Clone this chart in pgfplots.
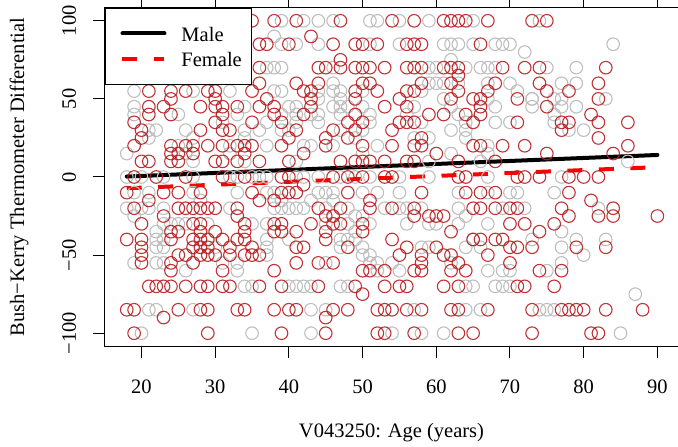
\documentclass[border=0pt]{standalone}
\usepackage{fontspec}
\setmainfont{Liberation Serif}
\usepackage{pgfplots}
\pgfplotsset{compat=1.18}
\definecolor{malegray}{RGB}{190,190,190}
\definecolor{femred}{RGB}{185,28,32}
\newcommand{\labfont}{\fontsize{20.5}{24}\selectfont}

\begin{document}
\begin{tikzpicture}
\begin{axis}[
  scale only axis, width=573pt, height=338pt,
  xmin=15.05, xmax=92.8, ymin=-108.2, ymax=108.2,
  axis line style={line width=1pt},
  tick align=outside, major tick length=12pt,
  tick style={black, line width=1pt},
  xtick={20,30,40,50,60,70,80,90},
  xticklabels={20,30,40,50,60,70,80,90},
  ytick={-100,-50,0,50,100},
  yticklabels={−100,−50,0,50,100},
  tick label style={font=\labfont},
  xticklabel style={anchor=base, yshift=-35pt},
  yticklabel style={rotate=90, anchor=base, yshift=17pt},
  label style={font=\labfont},
  xlabel={V043250: Age (years)},
  ylabel={Bush−Kerry Thermometer Differential},
  xlabel style={at={(axis description cs:0.5,-0.272)}, anchor=base},
  ylabel style={at={(axis description cs:-0.150,0.5)}, anchor=center},
  legend cell align=left,
  legend style={at={(axis description cs:0,1)}, anchor=north west,
    draw=black, line width=1pt, fill=white, font=\labfont,
    inner xsep=10pt, inner ysep=12.4pt, row sep=0pt, column sep=0pt,
    nodes={inner sep=0pt, text height=14pt, text depth=0pt}},
  legend image code/.code={%
    \path[draw=none, fill=none] (0pt,-12.3pt) rectangle (66pt,13.3pt);
    \draw[#1] (7pt,0.7pt) -- (49pt,0.7pt);},
]

% respondents, male
\addplot[only marks, mark=o, mark size=6.3pt, color=malegray,
  mark options={line width=1.1pt}, forget plot] coordinates {
(19,55)(27,55)(32,55)(19,45)(34,45)(19,40)(25,40)(33,40)(31,35)(21,30)(22,30)(26,30)(34,30)
(21,25)(27,25)(34,25)(25,20)(32,20)(18,15)(26,15)(32,15)(27,10)(34,10)
(39,100)(42,100)(44,100)(46,100)(51,100)(52,100)(38,90)(39,85)(41,85)(44,85)(51,85)
(37,70)(38,70)(39,70)(46,70)(46,60)(38,55)(39,55)(44,55)(46,55)(47,55)(50,55)(44,50)(47,50)
(40,45)(41,45)(46,45)(47,45)(48,45)(50,45)(39,40)(41,40)(43,40)(44,40)(47,40)(51,40)
(37,35)(41,35)(44,35)(51,35)(36,30)(39,30)(40,30)(47,30)(50,30)(49,25)(37,20)(42,20)(43,20)
(46,20)(52,20)(50,15)(41,10)
(55,100)(59,100)(65,100)(55,85)(61,85)(62,85)(63,85)(65,85)(68,85)(69,85)(70,85)(72,80)(62,75)
(59,70)(60,70)(64,70)(66,70)(67,70)(68,70)(59,60)(60,60)(61,60)(63,60)(67,60)(70,60)(58,55)
(71,55)(61,50)(67,50)(73,50)(57,45)(62,45)(68,45)(56,40)(63,40)(58,35)(64,35)(68,35)(70,35)
(62,30)(64,30)(57,25)(59,25)(64,25)(67,20)(62,15)(67,15)(59,10)(66,10)
(74,100)(84,85)(75,70)(79,70)(77,60)(79,60)(73,50)(76,50)(77,50)(83,50)(73,45)(77,45)(79,45)
(76,40)(76,35)(78,30)(80,30)(86,10)
(18,0)(20,0)(23,0)(27,0)(32,0)(33,0)(19,-10)(21,-10)(27,-10)(33,-10)(28,-15)(18,-20)(20,-20)
(21,-20)(23,-20)(32,-20)(19,-25)(23,-30)(24,-30)(25,-30)(26,-30)(29,-30)(22,-35)(22,-40)
(23,-40)(22,-45)(23,-45)(30,-45)(19,-55)(22,-55)(23,-55)(31,-55)(33,-55)(26,-60)(33,-60)
(34,-70)(21,-85)(22,-85)(27,-85)(20,-100)
(35,0)(36,0)(37,0)(41,0)(42,0)(44,0)(47,0)(49,0)(51,0)(37,-10)(38,-10)(44,-10)(45,-10)(46,-10)
(50,-10)(52,-10)(39,-15)(43,-15)(46,-15)(38,-20)(39,-20)(40,-20)(41,-20)(42,-20)(45,-20)
(48,-20)(53,-20)(49,-25)(50,-25)(35,-30)(37,-30)(45,-30)(48,-30)(51,-30)(49,-35)(37,-40)
(40,-40)(47,-40)(48,-40)(49,-40)(37,-45)(47,-45)(50,-45)(37,-50)(50,-50)(51,-50)(45,-55)
(51,-55)(52,-55)(52,-60)(35,-70)(40,-70)(41,-70)(42,-70)(43,-70)(47,-70)(48,-70)(43,-85)
(45,-85)(35,-100)(43,-100)
(55,0)(59,0)(67,0)(55,-10)(63,-10)(67,-10)(70,-10)(71,-10)(55,-20)(56,-20)(58,-20)(63,-20)
(69,-20)(72,-20)(64,-25)(56,-30)(59,-30)(60,-30)(63,-30)(67,-30)(65,-40)(73,-40)(58,-45)
(59,-45)(64,-45)(66,-45)(54,-55)(62,-55)(55,-60)(67,-60)(69,-60)(70,-60)(64,-70)(65,-70)
(68,-70)(69,-70)(70,-70)(57,-85)(64,-85)(66,-85)(54,-100)(58,-100)(61,-100)
(77,0)(76,-10)(82,-20)(77,-35)(79,-40)(83,-40)(77,-45)(80,-50)(77,-55)(75,-60)(87,-75)
(74,-85)(75,-85)(76,-85)(85,-100)
};

% respondents, female
\addplot[only marks, mark=o, mark size=6.3pt, color=femred, opacity=0.9,
  mark options={line width=1.1pt}, forget plot] coordinates {
(21,55)(24,55)(26,55)(29,55)(30,55)(24,50)(30,50)(21,45)(23,45)(28,45)(30,45)(31,45)(33,45)
(21,40)(24,40)(31,40)(19,35)(30,35)(20,30)(28,30)(31,30)(32,30)(20,25)(19,20)(24,20)(26,20)
(27,20)(29,20)(31,20)(33,20)(34,20)(24,15)(25,15)(27,15)(34,15)(20,10)(21,10)(24,10)(25,10)
(30,10)(31,10)(33,10)
(35,100)(38,100)(41,100)(47,100)(54,100)(43,90)(36,85)(37,85)(40,85)(46,85)(49,85)(50,85)
(52,85)(47,75)(36,70)(44,70)(45,70)(47,70)(49,70)(50,70)(51,70)(53,70)(36,60)(41,60)(44,60)
(50,60)(51,60)(35,55)(42,55)(43,55)(49,55)(52,55)(37,50)(43,50)(49,50)(36,45)(38,45)(43,45)
(53,45)(38,40)(42,40)(49,40)(35,35)(39,35)(48,35)(50,35)(41,30)(46,30)(49,30)(40,25)(45,25)
(48,25)(35,20)(39,20)(45,20)(50,20)(42,15)(36,10)(40,10)(47,10)(49,10)(50,10)(51,10)(53,10)
(57,100)(61,100)(62,100)(63,100)(64,100)(67,100)(73,100)(56,85)(57,85)(58,85)(66,85)
(56,70)(57,70)(58,70)(61,70)(62,70)(63,70)(69,70)(72,70)(63,65)(58,60)(62,60)(68,60)(56,55)
(57,55)(63,55)(67,55)(55,50)(62,50)(65,50)(66,50)(71,50)(56,45)(66,45)(59,40)(61,40)(64,40)
(66,40)(55,35)(56,35)(57,35)(65,35)(71,35)(54,30)(58,25)(54,20)(57,20)(58,20)(65,20)(66,20)
(69,20)(72,20)(60,15)(56,10)(57,10)(63,10)(68,10)
(75,100)(74,70)(83,70)(74,60)(82,60)(75,55)(78,55)(82,50)(75,45)(81,40)(77,35)(78,35)
(82,35)(86,35)(77,30)(82,25)(86,20)(75,15)(84,15)
(19,0)(22,0)(26,0)(31,0)(34,0)(18,-10)(23,-10)(25,-10)(28,-10)(21,-15)(19,-20)(25,-20)
(26,-20)(27,-20)(28,-20)(29,-20)(30,-20)(33,-20)(23,-25)(33,-25)(20,-30)(27,-30)(28,-30)
(34,-30)(24,-35)(25,-35)(28,-35)(30,-35)(34,-35)(18,-40)(20,-40)(24,-40)(27,-40)(28,-40)
(29,-40)(31,-40)(33,-40)(34,-40)(20,-45)(27,-45)(28,-45)(29,-45)(32,-45)(20,-50)(25,-50)
(26,-50)(28,-50)(29,-50)(30,-50)(32,-50)(34,-50)(20,-55)(24,-55)(27,-55)(24,-60)(31,-60)
(21,-70)(22,-70)(23,-70)(24,-70)(26,-70)(28,-70)(29,-70)(31,-70)(32,-70)(18,-85)(19,-85)
(25,-85)(28,-85)(29,-85)(33,-85)(34,-85)(23,-90)(19,-100)(29,-100)
(39,0)(40,0)(46,0)(48,0)(50,0)(53,0)(42,-5)(35,-10)(39,-10)(40,-10)(41,-10)(48,-10)(36,-15)
(38,-15)(51,-15)(44,-20)(47,-20)(51,-20)(45,-25)(46,-25)(38,-30)(39,-30)(43,-30)(46,-30)
(47,-30)(50,-30)(38,-35)(39,-35)(41,-35)(45,-35)(50,-35)(45,-40)(54,-40)(35,-45)(41,-45)
(42,-45)(48,-45)(35,-50)(36,-50)(41,-55)(44,-55)(46,-55)(38,-60)(50,-60)(51,-60)(53,-60)
(36,-70)(39,-70)(44,-70)(49,-70)(53,-70)(50,-75)(38,-85)(40,-85)(41,-85)(46,-85)(48,-85)
(52,-85)(53,-85)(45,-90)(39,-100)(45,-100)(52,-100)(53,-100)
(54,0)(63,0)(64,0)(71,0)(72,0)(58,-10)(64,-10)(66,-10)(68,-10)(54,-20)(57,-20)(65,-20)
(66,-20)(68,-20)(70,-20)(71,-20)(57,-25)(59,-25)(60,-25)(61,-25)(70,-30)(72,-30)(62,-35)
(65,-40)(66,-40)(68,-40)(69,-40)(56,-45)(60,-45)(70,-45)(71,-45)(55,-50)(58,-50)(61,-50)
(62,-50)(67,-50)(58,-55)(63,-55)(70,-55)(57,-60)(58,-60)(62,-60)(64,-60)(55,-70)(56,-70)
(61,-70)(63,-70)(71,-70)(72,-70)(54,-85)(56,-85)(58,-85)(62,-85)(63,-85)(67,-85)(73,-85)
(57,-100)(63,-100)(65,-100)(73,-100)
(74,0)(78,0)(80,0)(82,0)(78,-10)(81,-15)(77,-20)(84,-20)(78,-25)(82,-25)(84,-25)(90,-25)
(76,-30)(74,-35)(73,-45)(79,-45)(83,-45)(74,-60)(77,-60)(76,-70)(77,-85)(78,-85)(79,-85)
(80,-85)(83,-85)(88,-85)(81,-100)(82,-100)
};

% fitted lines
\addplot[black, line width=4pt, line cap=round] coordinates {(18,0.3) (90,14.1)};
\addlegendentry{Male}
\addplot[red, line width=4pt, dash pattern=on 15pt off 16.5pt] coordinates {(18,-7.2) (90,6.3)};
\addlegendentry{Female}
\end{axis}
\pgfresetboundingbox
\path (-105pt,-101pt) rectangle (573pt,338pt+8pt);
\end{tikzpicture}
\end{document}
